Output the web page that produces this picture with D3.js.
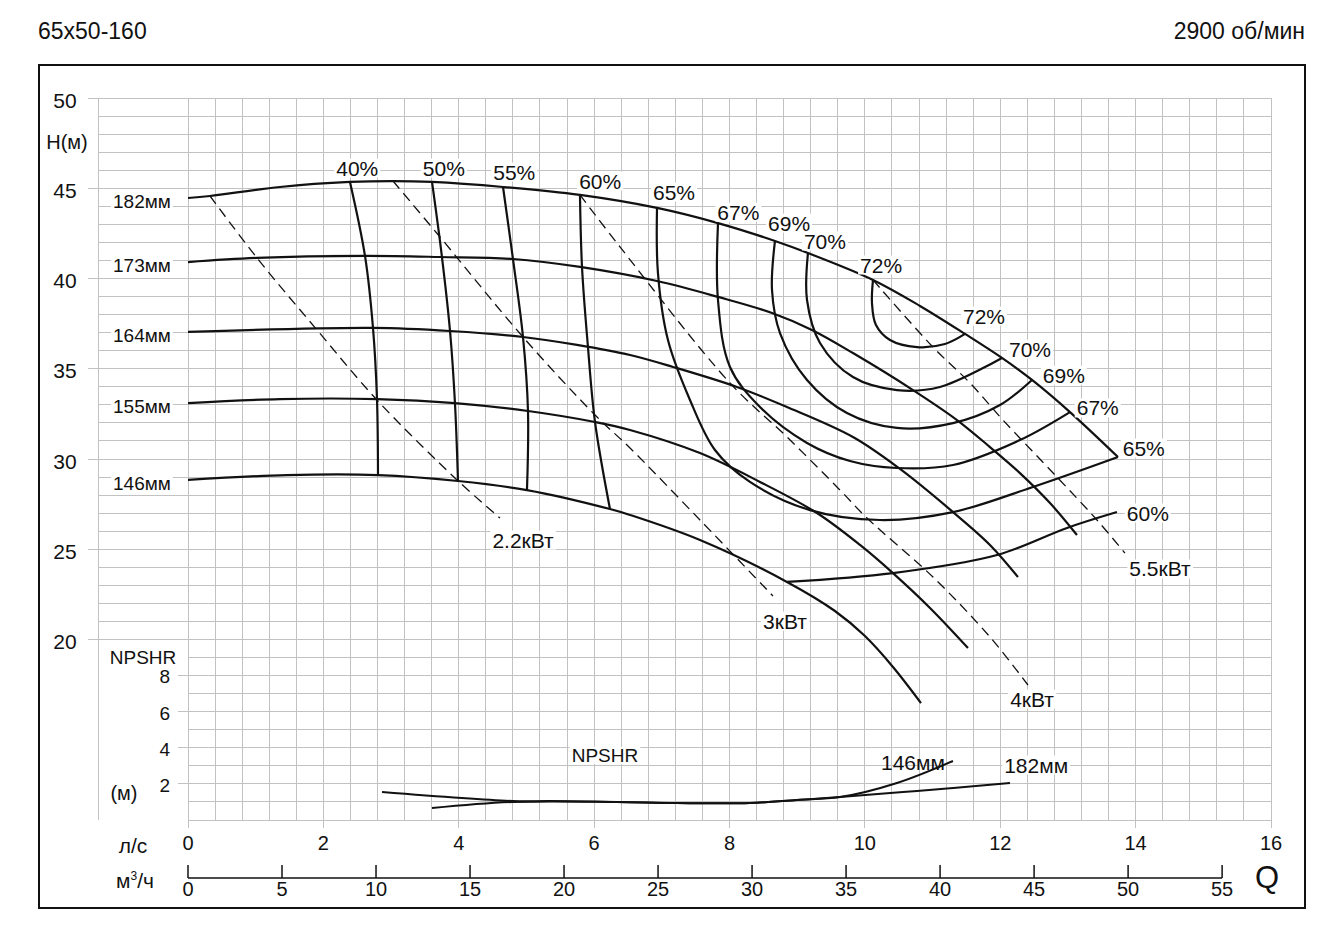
<!DOCTYPE html>
<html>
<head>
<meta charset="utf-8">
<script src="https://cdn.jsdelivr.net/npm/d3@7"></script>
<style>
  body { margin: 0; background: #fff; }
  text { font-family: "Liberation Sans", Arial, sans-serif; fill: #111; }
</style>
</head>
<body>
<div id="chart"></div>
<script>
// ---- data (Q in l/s, H / NPSH in m) ----
var lsTicks = [0, 2, 4, 6, 8, 10, 12, 14, 16];
var m3hTicks = [0, 5, 10, 15, 20, 25, 30, 35, 40, 45, 50, 55];
var hTicks = [20, 25, 30, 35, 40, 45, 50];
var npshTicks = [2, 4, 6, 8];

var diameters = ["182мм", "173мм", "164мм", "155мм", "146мм"];
var h182 = [[0,44.46],[0.325,44.57],[1.359,45.07],[2.393,45.35],[3.029,45.40],[3.605,45.35],[4.654,45.07],[5.791,44.63],[6.929,43.91],[7.830,43.07],[8.672,42.08],[9.159,41.41],[10.120,39.92],[10.814,38.48],[11.479,36.93],[12.025,35.60],[12.469,34.38],[13.030,32.60],[13.739,30.11]];
var h173 = [[0,40.91],[1.019,41.14],[2.615,41.25],[3.723,41.19],[4.801,41.08],[5.791,40.64],[6.929,39.86],[7.830,38.98],[8.628,38.09],[9.218,37.15],[9.824,35.87],[10.711,33.82],[11.361,32.16],[11.848,30.66],[12.291,29.22],[12.735,27.56],[13.133,25.79]];
var h164 = [[0,37.04],[2.733,37.26],[3.871,37.09],[4.949,36.76],[5.747,36.32],[6.530,35.76],[7.165,35.10],[8.110,33.99],[8.849,32.88],[9.824,31.22],[10.519,29.45],[11.302,27.06],[11.848,25.24],[12.262,23.46]];
var h155 = [[0,33.10],[1.359,33.32],[2.792,33.32],[3.944,33.10],[5.023,32.66],[6.013,32.05],[6.530,31.61],[7.564,30.33],[8.450,28.73],[9.292,27.01],[9.928,25.24],[10.415,23.68],[10.962,21.75],[11.523,19.53]];
var h146 = [[0,28.84],[1.463,29.11],[2.807,29.11],[3.989,28.78],[5.008,28.28],[6.234,27.23],[6.530,26.90],[7.564,25.51],[8.849,23.19],[9.558,21.58],[10.001,20.19],[10.415,18.48],[10.829,16.48]];

var effNames = ["40%", "50%", "55%", "60%", "65%", "67%", "69%", "70%", "72%", "60%"];
var eff40 = [[2.393,45.35],[2.615,41.25],[2.733,37.26],[2.792,33.32],[2.807,29.11]];
var eff50 = [[3.605,45.35],[3.752,41.19],[3.871,37.09],[3.944,33.10],[3.989,28.78]];
var eff55 = [[4.654,45.07],[4.801,41.08],[4.949,36.76],[5.023,32.66],[5.008,28.28]];
var eff60 = [[5.791,44.63],[5.821,40.64],[5.909,36.20],[6.013,32.05],[6.234,27.23]];
var eff65 = [[6.929,43.91],[6.943,40.30],[7.091,36.59],[7.416,33.27],[7.785,30.50],[8.302,28.73],[9.189,27.17],[10.223,26.62],[11.302,27.06],[12.483,28.45],[13.739,30.11]];
var eff67 = [[7.830,43.07],[7.830,38.81],[8.007,35.10],[8.450,32.88],[9.145,30.89],[9.780,29.89],[10.474,29.50],[11.302,29.67],[12.291,31.05],[13.030,32.60]];
var eff69 = [[8.672,42.08],[8.628,39.36],[8.746,36.98],[9.145,34.38],[9.735,32.55],[10.474,31.72],[11.302,31.99],[11.996,32.99],[12.469,34.38]];
var eff70 = [[9.159,41.41],[9.145,38.81],[9.337,36.43],[9.824,34.54],[10.474,33.82],[11.109,33.99],[12.025,35.60]];
var eff72 = [[10.120,39.92],[10.105,38.64],[10.164,37.42],[10.371,36.59],[10.770,36.20],[11.183,36.37],[11.479,36.93]];
var eff60b = [[8.849,23.19],[10.415,23.68],[11.952,24.68],[12.986,26.18],[13.724,27.06]];

var powerNames = ["2.2кВт", "3кВт", "4кВт", "5.5кВт"];
var p22 = [[0.325,44.57],[1.019,41.14],[1.906,37.15],[2.792,33.27],[3.974,28.84],[4.609,26.73]];
var p3 = [[3.029,45.40],[3.723,42.30],[4.949,36.76],[6.013,32.44],[6.530,30.61],[7.564,26.62],[8.642,22.41]];
var p4 = [[5.791,44.63],[6.382,41.75],[8.007,34.21],[8.849,31.22],[9.632,28.28],[10.031,26.73],[11.006,23.46],[11.848,20.14],[12.409,17.48]];
var p55 = [[10.120,39.92],[11.006,36.20],[11.553,34.21],[12.040,32.16],[12.838,29.00],[13.429,26.62],[13.842,24.79]];

var npsh146 = [[2.866,1.55],[4.801,1.05],[5.348,1.05],[6.338,1.00],[7.224,0.94],[8.303,0.94],[8.997,1.11],[9.632,1.27],[10.474,2.05],[11.302,3.27]];
var npsh182 = [[3.605,0.66],[4.801,1.00],[6.338,1.00],[7.224,0.94],[8.303,0.94],[8.997,1.11],[9.632,1.27],[10.770,1.61],[12.144,2.05]];

// ---- layout ----
var W = 1340, H = 950;
var svg = d3.select("#chart").append("svg")
    .attr("width", W).attr("height", H);

var x = d3.scaleLinear().domain([0, 16]).range([188, 1271]);
var y = d3.scaleLinear().domain([10, 50]).range([820, 98]);
var yN = d3.scaleLinear().domain([0, 40]).range([820, 98]);
var xm = d3.scaleLinear().domain([0, 57.6]).range([188, 1271]);
var gridLeft = 98;

// frame + header
svg.append("rect").attr("x", 39).attr("y", 65).attr("width", 1266).attr("height", 843)
    .attr("fill", "none").attr("stroke", "#111").attr("stroke-width", 2);
svg.append("text").attr("x", 38).attr("y", 31).attr("dy", "0.36em").attr("font-size", 23).text("65x50-160");
svg.append("text").attr("x", 1305).attr("y", 31).attr("dy", "0.36em").attr("font-size", 23)
    .attr("text-anchor", "end").text("2900 об/мин");

// grid
var grid = svg.append("g").attr("stroke", "#c2c2c2").attr("stroke-width", 1).attr("shape-rendering", "crispEdges");
d3.range(10, 51).forEach(function(h) {
  var x0 = h >= 20 ? gridLeft : x(0);
  if (h % 5 == 0 && h >= 20) x0 = 88;
  if (h < 20 && (h - 10) % 2 == 0 && h > 10) x0 = 178;
  grid.append("line").attr("x1", x0).attr("x2", x(16)).attr("y1", y(h)).attr("y2", y(h));
});
d3.range(0, 41).forEach(function(i) {
  var q = i * 0.4;
  var ext = (i % 5 == 0) ? 8 : 0;
  grid.append("line").attr("x1", x(q)).attr("x2", x(q)).attr("y1", y(50)).attr("y2", y(10) + ext);
});
grid.append("line").attr("x1", gridLeft).attr("x2", gridLeft).attr("y1", y(50)).attr("y2", y(10));

// axis labels
hTicks.forEach(function(h) {
  svg.append("text").attr("x", 65).attr("y", y(h) + 2).attr("dy", "0.36em")
    .attr("text-anchor", "middle").attr("font-size", 21).text(h);
});
svg.append("text").attr("x", 67).attr("y", 142).attr("dy", "0.36em")
  .attr("text-anchor", "middle").attr("font-size", 20).text("H(м)");
npshTicks.forEach(function(n) {
  svg.append("text").attr("x", 170).attr("y", yN(n) + 1).attr("dy", "0.36em")
    .attr("text-anchor", "end").attr("font-size", 19).text(n);
});
svg.append("text").attr("x", 143).attr("y", 657).attr("dy", "0.36em")
  .attr("text-anchor", "middle").attr("font-size", 19).text("NPSHR");
svg.append("text").attr("x", 124).attr("y", 793).attr("dy", "0.36em")
  .attr("text-anchor", "middle").attr("font-size", 20).text("(м)");

lsTicks.forEach(function(q) {
  svg.append("text").attr("x", x(q)).attr("y", 843).attr("dy", "0.36em")
    .attr("text-anchor", "middle").attr("font-size", 20).text(q);
});
svg.append("text").attr("x", 133).attr("y", 845).attr("dy", "0.36em")
  .attr("text-anchor", "middle").attr("font-size", 21).text("л/с");

var mAxis = svg.append("g").attr("stroke", "#111").attr("stroke-width", 1.5);
mAxis.append("line").attr("x1", xm(0)).attr("x2", xm(55)).attr("y1", 878).attr("y2", 878);
m3hTicks.forEach(function(m) {
  mAxis.append("line").attr("x1", xm(m)).attr("x2", xm(m)).attr("y1", 865).attr("y2", 878);
  svg.append("text").attr("x", xm(m)).attr("y", 889).attr("dy", "0.36em")
    .attr("text-anchor", "middle").attr("font-size", 20).text(m);
});
var m3 = svg.append("text").attr("x", 116).attr("y", 880).attr("dy", "0.36em").attr("font-size", 21);
m3.append("tspan").text("м");
m3.append("tspan").attr("font-size", 12).attr("dy", "-0.6em").text("3");
m3.append("tspan").attr("dy", "0.35em").text("/ч");
svg.append("text").attr("x", 1267).attr("y", 877).attr("dy", "0.36em")
  .attr("text-anchor", "middle").attr("font-size", 31).text("Q");

// labels with white background (drawn before the curves where curves cross them)
function label(px, py, txt, size, anchor, bg) {
  var g = svg.append("g");
  var t = g.append("text").attr("x", px).attr("y", py).attr("dy", "0.36em")
    .attr("text-anchor", anchor || "middle").attr("font-size", size).text(txt);
  if (bg === false) return;
  var b = t.node().getBBox();
  g.insert("rect", "text").attr("x", b.x - 2).attr("y", b.y + 2)
    .attr("width", b.width + 4).attr("height", b.height - 4).attr("fill", "#fff");
}

label(x(6.16), yN(3.60), "NPSHR", 19);
label(x(10.71), yN(3.21), "146мм", 21, "middle", false);
label(x(12.53), yN(3.05), "182мм", 21);

// curves
var line = d3.line()
  .x(function(d) { return x(d[0]); })
  .y(function(d) { return y(d[1]); })
  .curve(d3.curveCatmullRom.alpha(0.5));
var lineN = d3.line()
  .x(function(d) { return x(d[0]); })
  .y(function(d) { return yN(d[1]); })
  .curve(d3.curveCatmullRom.alpha(0.5));

var curves = svg.append("g").attr("fill", "none").attr("stroke", "#111")
  .attr("stroke-linejoin", "round");

[p22, p3, p4, p55].forEach(function(p) {
  curves.append("path").attr("d", line(p)).attr("stroke-width", 1.3).attr("stroke-dasharray", "10,6");
});
[h182, h173, h164, h155, h146].forEach(function(h) {
  curves.append("path").attr("d", line(h)).attr("stroke-width", 2.2);
});
[eff40, eff50, eff55, eff60, eff65, eff67, eff69, eff70, eff72, eff60b].forEach(function(e) {
  curves.append("path").attr("d", line(e)).attr("stroke-width", 2.2);
});
[npsh146, npsh182].forEach(function(n) {
  curves.append("path").attr("d", lineN(n)).attr("stroke-width", 2);
});

var heads = [h182, h173, h164, h155, h146];
diameters.forEach(function(d, i) {
  label(113, y(heads[i][0][1]) + 3, d, 19, "start");
});

var effPos = [[2.50,46.12],[3.78,46.12],[4.82,45.90],[6.09,45.40],[7.18,44.79],[8.13,43.68],[8.88,43.07],[9.41,42.08],[10.24,40.75]];
effPos.forEach(function(p, i) {
  label(x(p[0]), y(p[1]), effNames[i], 21);
});
var effPosR = [[11.76,37.92,"72%"],[12.44,36.09,"70%"],[12.94,34.65,"69%"],[13.44,32.83,"67%"],[14.12,30.61,"65%"],[14.18,27.01,effNames[9]]];
effPosR.forEach(function(p) {
  label(x(p[0]), y(p[1]), p[2], 21);
});

var powerPos = [[4.95,25.51],[8.82,21.02],[12.47,16.70],[14.36,23.91]];
powerPos.forEach(function(p, i) {
  label(x(p[0]), y(p[1]), powerNames[i], 21);
});
</script>
</body>
</html>
